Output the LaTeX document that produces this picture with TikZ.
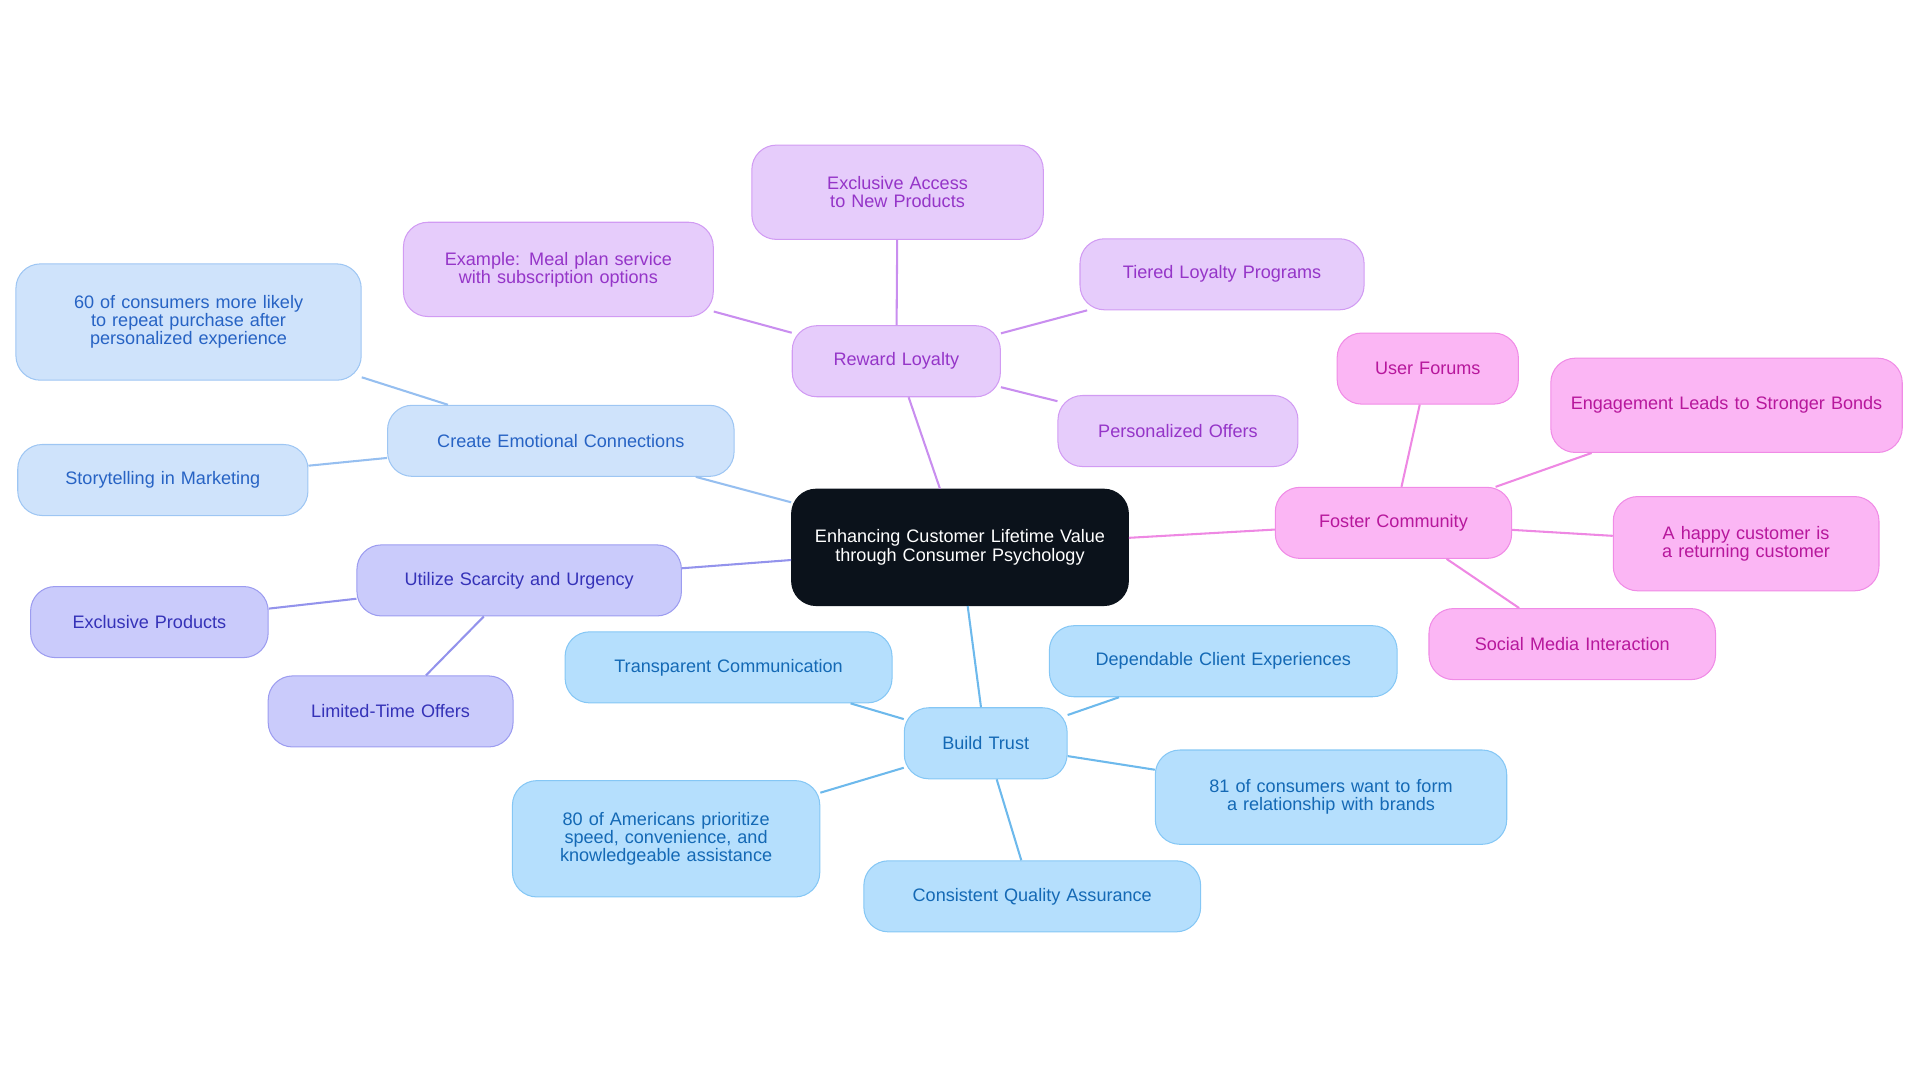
\documentclass[tikz,border=0pt]{standalone}
\usepackage{fontspec}
\setmainfont{Liberation Sans}
\definecolor{rootc}{HTML}{0B121B}
\definecolor{bF}{HTML}{CFE3FB}\definecolor{bD}{HTML}{9EC6F3}\definecolor{bT}{HTML}{2763C4}\definecolor{bL}{HTML}{96BFF0}
\definecolor{sF}{HTML}{CACBFB}\definecolor{sD}{HTML}{9C9CF0}\definecolor{sT}{HTML}{3532B8}\definecolor{sL}{HTML}{9393EC}
\definecolor{rF}{HTML}{E6CCFB}\definecolor{rD}{HTML}{D19BF3}\definecolor{rT}{HTML}{9535C8}\definecolor{rL}{HTML}{C98EEF}
\definecolor{pF}{HTML}{FBB6F4}\definecolor{pD}{HTML}{F08BE6}\definecolor{pT}{HTML}{B7179C}\definecolor{pL}{HTML}{EE88E3}
\definecolor{tF}{HTML}{B5DFFD}\definecolor{tD}{HTML}{85C7F5}\definecolor{tT}{HTML}{1469B5}\definecolor{tL}{HTML}{6DB9EC}
\tikzset{
 base/.style={rounded corners=0.5cm, align=center, inner sep=0pt, font=\fontsize{10.5}{10.5}\selectfont, minimum height=1.45cm, line width=0.6pt},
 nb/.style={base, fill=bF, draw=bD, text=bT},
 ns/.style={base, fill=sF, draw=sD, text=sT},
 nr/.style={base, fill=rF, draw=rD, text=rT},
 np/.style={base, fill=pF, draw=pD, text=pT},
 nt/.style={base, fill=tF, draw=tD, text=tT},
 w/.style={minimum width=#1*0.025cm, text width=#1*0.025cm-0.7cm},
 h/.style={minimum height=#1*0.025cm},
 lk/.style={line width=1.2pt}
}
\begin{document}
\begin{tikzpicture}[x=0.025cm,y=-0.025cm]
\useasboundingbox (0,0) rectangle (1568,884);
\node[base, fill=rootc, text=white, draw=rootc, w=275, h=95] (root) at (784,447) {Enhancing Customer Lifetime Value through Consumer Psychology};
\node[nb,w=283] (emo) at (458,360) {Create Emotional Connections};
\node[nb,w=282,h=95] (e1) at (154,263) {60 of consumers more likely to repeat purchase after personalized experience};
\node[nb,w=237] (e2) at (133,392) {Storytelling in Marketing};
\node[ns,w=265] (sc) at (424,474) {Utilize Scarcity and Urgency};
\node[ns,w=194] (s1) at (122,508) {Exclusive Products};
\node[ns,w=200] (s2) at (319,581) {Limited-Time Offers};
\node[nr,w=170] (rw) at (732,295) {Reward Loyalty};
\node[nr,w=253,h=77] (r1) at (456,220) {Example: Meal plan service with subscription options};
\node[nr,w=238,h=77] (r2) at (733,157) {Exclusive Access to New Products};
\node[nr,w=232] (r3) at (998,224) {Tiered Loyalty Programs};
\node[nr,w=196] (r4) at (962,352) {Personalized Offers};
\node[np,w=193] (fc) at (1138,427) {Foster Community};
\node[np,w=148] (p1) at (1166,301) {User Forums};
\node[np,w=287,h=77] (p2) at (1410,331) {Engagement Leads to Stronger Bonds};
\node[np,w=217,h=77] (p3) at (1426,444) {A happy customer is a returning customer};
\node[np,w=234] (p4) at (1284,526) {Social Media Interaction};
\node[nt,w=133] (bt) at (805,607) {Build Trust};
\node[nt,w=267] (t1) at (595,545) {Transparent Communication};
\node[nt,w=284] (t2) at (999,540) {Dependable Client Experiences};
\node[nt,w=287,h=77] (t3) at (1087,651) {81 of consumers want to form a relationship with brands};
\node[nt,w=251,h=95] (t4) at (544,685) {80 of Americans prioritize speed, convenience, and knowledgeable assistance};
\node[nt,w=275] (t5) at (843,732) {Consistent Quality Assurance};
\begin{scope}[on background layer/.style={}]
\end{scope}
\begin{pgfonlayer}{main}\end{pgfonlayer}
\foreach \a/\b/\c in {root/emo/bL,emo/e1/bL,emo/e2/bL,root/sc/sL,sc/s1/sL,sc/s2/sL,root/rw/rL,rw/r1/rL,rw/r2/rL,rw/r3/rL,rw/r4/rL,root/fc/pL,fc/p1/pL,fc/p2/pL,fc/p3/pL,fc/p4/pL,root/bt/tL,bt/t1/tL,bt/t2/tL,bt/t3/tL,bt/t4/tL,bt/t5/tL}
 \draw[lk,\c] (\a) -- (\b);
\end{tikzpicture}
\end{document}
